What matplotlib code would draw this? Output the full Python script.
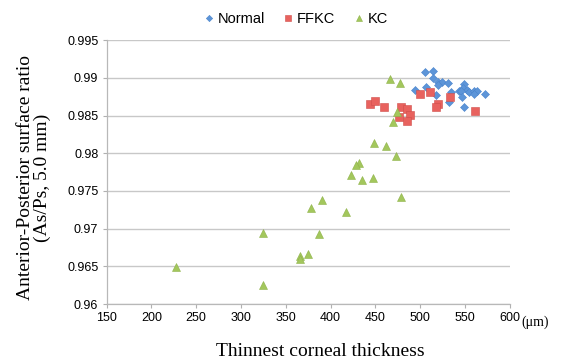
import matplotlib.pyplot as plt
import numpy as np

# Normal
normal_x = [494, 505, 514, 514, 520, 524, 520, 531, 506, 518, 534, 532, 549, 548,
            552, 543, 545, 554, 560, 563, 560, 572, 547, 549]
normal_y = [0.9884, 0.9908, 0.9909, 0.9900, 0.9895, 0.9894, 0.9890, 0.9893, 0.9888,
            0.9877, 0.9881, 0.9868, 0.9892, 0.9887, 0.9884, 0.9882, 0.9883, 0.9881,
            0.9883, 0.9883, 0.9878, 0.9878, 0.9874, 0.9862]
# FFKC
ffkc_x = [444, 450, 459, 478, 485, 488, 476, 485, 500, 511, 520, 518, 533, 561]
ffkc_y = [0.9865, 0.9870, 0.9861, 0.9862, 0.9859, 0.9851, 0.9848, 0.9843, 0.9878,
          0.9881, 0.9866, 0.9861, 0.9874, 0.9856]
# KC
kc_x = [466, 477, 474, 469, 448, 462, 473, 432, 428, 423, 435, 447, 478, 390, 378,
        417, 324, 387, 366, 366, 375, 227, 325]
kc_y = [0.9898, 0.9893, 0.9855, 0.9841, 0.9813, 0.9809, 0.9796, 0.9787, 0.9784,
        0.9771, 0.9765, 0.9767, 0.9742, 0.9738, 0.9728, 0.9722, 0.9694, 0.9693,
        0.9664, 0.9660, 0.9666, 0.9649, 0.9625]

xticks = np.arange(150, 601, 50)
yticks = [0.96, 0.965, 0.97, 0.975, 0.98, 0.985, 0.99, 0.995]
ytick_labels = ['0.96', '0.965', '0.97', '0.975', '0.98', '0.985', '0.99', '0.995']

plt.rcParams['font.family'] = ['Liberation Sans', 'DejaVu Sans']

fig = plt.figure(figsize=(5.61, 3.62), dpi=100)
ax = fig.add_axes([0.190, 0.160, 0.719, 0.729])

ax.set_xlim(150, 600)
ax.set_ylim(0.96, 0.995)
ax.set_xticks(xticks)
ax.set_yticks(yticks)
ax.set_yticklabels(ytick_labels)
ax.tick_params(labelsize=9, length=3, color='#b0b0b0', width=0.8, pad=3)
ax.grid(axis='y', color='#c8c8c8', lw=1)
ax.set_axisbelow(True)
for s in ['top', 'right']:
    ax.spines[s].set_visible(False)
for s in ['left', 'bottom']:
    ax.spines[s].set_color('#b8b8b8')
    ax.spines[s].set_linewidth(0.9)

ax.plot(normal_x, normal_y, ls='none', marker='D', ms=4.3, color='#5d95d8',
        markeredgecolor='#4a84cc', markeredgewidth=0.4, label='Normal')
ax.plot(ffkc_x, ffkc_y, ls='none', marker='s', ms=5.2, color='#e8625e',
        markeredgecolor='#d04e4b', markeredgewidth=0.4, label='FFKC')
ax.plot(kc_x, kc_y, ls='none', marker='^', ms=5.5, color='#a3c75c',
        markeredgecolor='#8fb24a', markeredgewidth=0.4, label='KC')

ax.legend(loc='lower center', bbox_to_anchor=(0.47, 1.005), ncol=3, frameon=False,
          fontsize=10.5, handlelength=0.6, handletextpad=0.3, columnspacing=1.3,
          markerscale=0.75)

fig.text(0.06, 0.51, 'Anterior-Posterior surface ratio\n(As/Ps, 5.0 mm)',
         rotation=90, ha='center', va='center', fontsize=14,
         family='Liberation Serif', linespacing=1.0)
fig.text(320 / 561, 1 - 351 / 362, 'Thinnest corneal thickness', ha='center',
         va='center', fontsize=14, family='Liberation Serif')
fig.text(521 / 561, 1 - 322 / 362, '(\u03bcm)', ha='left', va='center', fontsize=10,
         family='Liberation Serif')

fig.savefig('out.png', dpi=100)
